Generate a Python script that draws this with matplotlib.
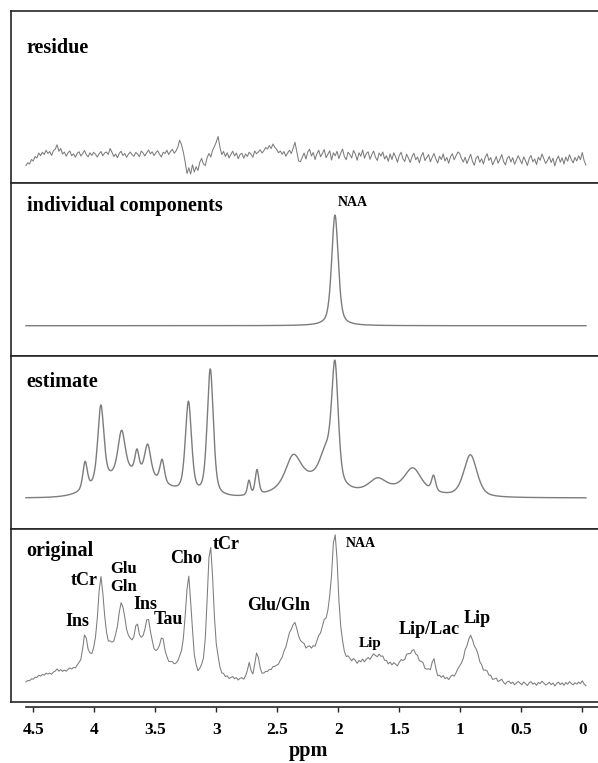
import numpy as np
import matplotlib
matplotlib.use("Agg")
import matplotlib.pyplot as plt
from matplotlib.ticker import FuncFormatter

plt.rcParams['font.family'] = ['Liberation Serif', 'DejaVu Serif']
plt.rcParams['font.weight'] = 'bold'

# fitted metabolite peaks of the estimate: position (ppm), amplitude, half width (ppm)
peak_names = ['Ins', 'tCr', 'Glu/Gln', 'Ins', 'Ins', 'Tau', 'Cho', 'tCr', 'Asp', 'Asp',
              'Glu/Gln', 'Glu/Gln', 'NAA', 'Lip', 'Lip/Lac', 'Lip/Lac', 'Lip']
peak_ppm = [4.075, 3.946, 3.776, 3.650, 3.562, 3.444, 3.228, 3.049, 2.732, 2.666,
            2.370, 2.100, 2.027, 1.679, 1.388, 1.219, 0.917]
peak_amp = [27.8, 78.0, 42.8, 21.4, 31.5, 23.1, 91.6, 127.0, 14.7, 25.0,
            27.2, 29.3, 115.2, 11.1, 22.4, 15.5, 42.3]
peak_hw = [0.022, 0.030, 0.035, 0.020, 0.030, 0.022, 0.030, 0.030, 0.015, 0.018,
           0.070, 0.060, 0.032, 0.080, 0.080, 0.020, 0.065]

# broad macromolecule background under the estimate
broad_ppm = [3.70, 2.25, 1.55]
broad_amp = [24.0, 18.0, 8.0]
broad_hw = [0.27, 0.22, 0.30]

# parts of the measured spectrum that the estimate leaves out (slow baseline, misfit)
base_ppm = [3.90, 1.95, 0.82, 3.225, 3.045, 2.37]
base_amp = [11.0, 11.0, 6.0, 11.0, 6.0, 7.0]
base_hw = [0.55, 0.35, 0.10, 0.04, 0.04, 0.06]

# residue (original - estimate), one value per spectral point from 4.56 to -0.03 ppm
residue = [
    -4.2, -3.1, -3.6, -1.8, -2.4, -0.6, -1.2, 0.8, -0.3, 1.1,
    0.2, 1.9, 0.6, 1.4, -0.2, 1.7, 2.3, 4.1, 1.5, 2.6,
    0.4, 1.2, -0.5, 0.9, 1.6, -0.3, 0.5, -0.9, 0.7, 1.3,
    -0.4, 0.6, 1.8, 0.1, -0.7, 0.9, -0.2, 1.1, 0.3, -0.8,
    0.5, 1.4, -0.3, 0.8, 1.2, 0.2, 2.6, 1.1, -0.6, 0.4,
    -1.1, 0.7, 1.5, -0.2, 0.6, -0.9, 0.3, 1.2, 0.1, -0.5,
    1.0, 0.4, -0.7, 1.6, 0.8, -0.4, 0.9, 2.0, 0.5, 1.3,
    -0.2, 0.9, 1.7, 0.3, -0.8, 1.1, 0.6, 1.9, 0.2, 1.4,
    2.3, 0.7, 1.6, 3.2, 5.9, 4.1, 1.2, -2.8, -7.4, -5.1,
    -7.6, -3.9, -6.8, -4.7, -6.2, -2.9, -1.4, -3.6, -4.2, -1.1,
    0.6, -0.8, 1.9, 3.4, 5.2, 7.4, 3.1, 0.2, 1.4, -0.6,
    0.9, -1.2, 0.3, 1.5, -0.4, 0.8, -1.5, 0.2, 0.7, -1.3,
    0.4, -0.6, 1.1, 0.3, -0.9, 1.6, 0.5, 1.2, 2.1, 0.8,
    1.7, 3.0, 2.4, 3.8, 2.6, 4.4, 3.1, 2.2, 0.9, 1.6,
    0.3, 1.4, -0.5, 0.8, 1.9, 0.6, 2.7, 5.1, 1.3, -2.4,
    -2.7, -0.9, 0.8, -1.6, 1.2, 2.3, -0.4, 1.0, -1.8, 0.5,
    1.9, -0.7, 0.6, 2.2, -1.1, 0.3, 1.7, -2.0, 0.9, -0.3,
    1.5, -1.4, 0.7, 2.4, -0.6, -1.9, 1.1, 0.2, -1.2, 1.8,
    0.4, -2.1, 0.9, -0.5, 2.0, -1.3, 0.6, 1.3, -1.7, 0.2,
    1.6, -0.9, -2.2, 0.8, -0.4, 1.2, -1.6, -0.3, -2.5, 0.4,
    -1.8, 0.9, -0.7, -2.9, -0.2, 1.1, -1.5, -2.6, 0.3, -1.2,
    -3.0, -0.6, 0.7, -1.9, -0.8, -3.1, -0.4, 1.0, -2.2, -1.1,
    0.2, -2.7, -0.9, 0.6, -1.6, -3.2, -0.5, -1.8, 0.4, -2.4,
    -1.0, -3.3, -0.7, 0.5, -1.9, -0.3, 1.2, 0.6, -1.4, -2.8,
    -0.9, -3.4, -1.6, 0.3, -2.5, -4.1, -1.2, -0.4, -2.9, -1.5,
    -3.6, -0.8, 0.5, -2.2, -1.0, -3.9, -2.4, -0.6, -3.3, -1.7,
    0.2, -2.6, -4.0, -1.3, -0.5, -2.8, -1.1, -3.7, -2.0, -0.3,
    -1.9, -3.5, -0.7, -2.3, -4.2, -1.4, -0.2, -2.7, -1.6, -3.8,
    -0.9, -2.1, 0.4, -1.5, -3.4, -2.2, -0.6, -3.0, -1.3, -4.3,
    -1.8, -0.4, -2.9, -1.1, -3.6, -0.8, -2.5, 0.1, -1.7, -3.2,
    -1.0, -2.4, -0.3, -1.9, 1.0, -2.2, -4.0,
]

# labels on the original spectrum: text, ppm, height, size
orig_labels = [
    ('Ins', 4.142, 56, 13), ('tCr', 4.084, 97, 13), ('Glu', 3.762, 109, 12),
    ('Gln', 3.762, 91.3, 12), ('Ins', 3.584, 73, 13), ('Tau', 3.393, 57.7, 13),
    ('Cho', 3.248, 118.7, 13), ('tCr', 2.920, 133, 13), ('NAA', 1.814, 135.3, 10),
    ('Glu/Gln', 2.486, 72, 13), ('Lip', 1.740, 34.7, 11), ('Lip/Lac', 1.257, 48, 13),
    ('Lip', 0.863, 59.3, 13),
]
naa = peak_names.index('NAA')


def lineshape(x, x0, a, w, eta=0.5):
    r2 = ((x - x0) / w) ** 2
    return a * (eta / (1.0 + r2) + (1.0 - eta) * np.exp(-np.log(2) * r2))


def model(x, pos, amp, hw, eta):
    y = np.zeros_like(x)
    for p, a, w in zip(pos, amp, hw):
        y += lineshape(x, p, a, w, eta)
    return y


ppm = np.linspace(4.56, -0.03, len(residue))
fine = np.linspace(4.56, -0.03, 1500)
res = np.array(residue)

estimate_fine = model(fine, peak_ppm, peak_amp, peak_hw, 0.5) + model(fine, broad_ppm, broad_amp, broad_hw, 0.0)
estimate_pts = model(ppm, peak_ppm, peak_amp, peak_hw, 0.5) + model(ppm, broad_ppm, broad_amp, broad_hw, 0.0)
original = estimate_pts + model(ppm, base_ppm, base_amp, base_hw, 0.0) + res
component = lineshape(fine, peak_ppm[naa], peak_amp[naa], peak_hw[naa])

W, H = 598, 763
fig = plt.figure(figsize=(W / 100, H / 100), dpi=100)

xl = (4.68, -0.129)
left = 11.3 / W
panels = [  # top, bottom in pixels, y limits
    (11, 183, (-11.2, 57.6)),
    (183, 356, (-31.5, 148.5)),
    (356, 529, (-31, 142)),
    (529, 702, (-20, 153)),
]
axes = []
for top, bot, yl in panels:
    ax = fig.add_axes([left, (H - bot) / H, 1 - left, (bot - top) / H])
    ax.set_xlim(*xl)
    ax.set_ylim(*yl)
    ax.set_xticks([])
    ax.set_yticks([])
    ax.spines['right'].set_visible(False)
    for s in ('left', 'top', 'bottom'):
        ax.spines[s].set_linewidth(1.2)
        ax.spines[s].set_color('#262626')
    axes.append(ax)

lc = '#7c7c7c'
lw = 0.75
axes[0].plot(ppm, res, color=lc, lw=lw)
axes[1].plot(fine, component, color=lc, lw=1.0)
axes[2].plot(fine, estimate_fine, color=lc, lw=1.0)
axes[3].plot(ppm, original, color=lc, lw=lw)

axes[1].text(1.881, 124.6, 'NAA', ha='center', va='baseline', fontsize=10)
for txt, x, y, fs in orig_labels:
    axes[3].text(x, y, txt, ha='center', va='baseline', fontsize=fs)

titles = [('residue', 53.3), ('individual components', 210.5),
          ('estimate', 386.7), ('original', 556)]
for txt, yb in titles:
    fig.text(26.7 / W, 1 - yb / H, txt, ha='left', va='baseline', fontsize=14.5)

# separate ppm axis below the panels
axx = fig.add_axes([left, (H - 707.3) / H, 1 - left, 0.0001])
axx.set_xlim(*xl)
axx.set_yticks([])
for s in ('left', 'right', 'top'):
    axx.spines[s].set_visible(False)
axx.spines['bottom'].set_bounds(4.56, xl[1])
axx.spines['bottom'].set_linewidth(1.2)
axx.spines['bottom'].set_color('#262626')
axx.set_xticks([4.5, 4, 3.5, 3, 2.5, 2, 1.5, 1, 0.5, 0])
axx.xaxis.set_major_formatter(FuncFormatter(lambda v, p: '{:g}'.format(v)))
axx.tick_params(axis='x', direction='out', length=3.4, width=1.0, pad=7,
                labelsize=12.5, color='#262626')
axx.patch.set_visible(False)
fig.text(308 / W, 1 - 756 / H, 'ppm', ha='center', va='baseline', fontsize=14.5)

fig.savefig('out.png', dpi=100)
